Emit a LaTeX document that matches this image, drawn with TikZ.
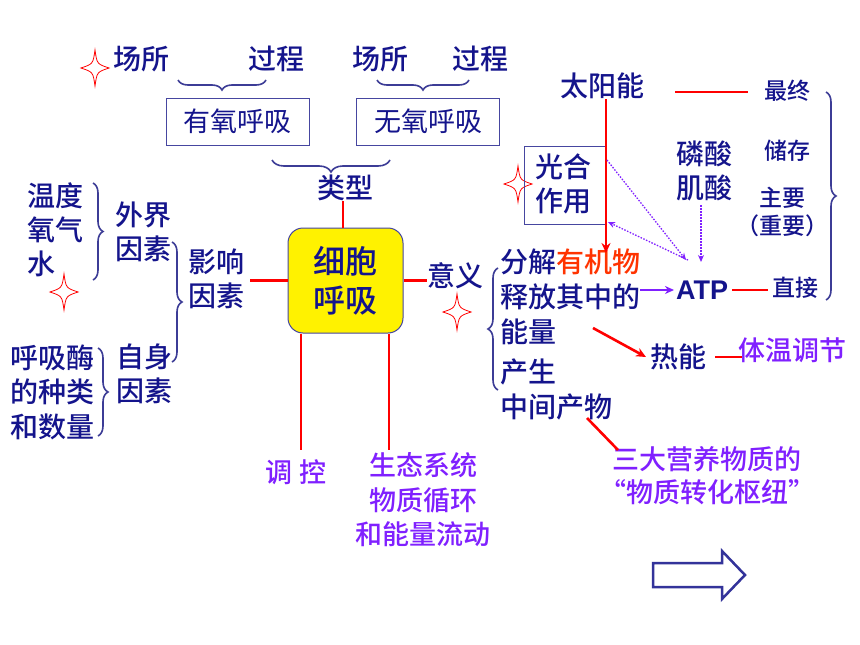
\documentclass[tikz,border=0pt]{standalone}
\usepackage{fontspec}
\setmainfont{Liberation Sans}
\newfontfamily\atpfont{Liberation Sans Bold}
\newfontfamily\cjk{Noto Sans CJK SC}[BoldFont={Noto Sans CJK SC Medium}]
\usetikzlibrary{decorations.pathreplacing,arrows.meta}
\definecolor{navy}{RGB}{20,20,140}
\definecolor{vio}{RGB}{128,32,255}
\definecolor{orred}{RGB}{255,51,0}
\definecolor{boxline}{RGB}{70,70,160}
\definecolor{bracec}{RGB}{60,60,150}
\begin{document}
\begin{tikzpicture}[x=1pt,y=-1pt,
  every node/.style={inner sep=0pt},
  lbl/.style={font=\cjk\bfseries\fontsize{28}{34}\selectfont, text=navy, anchor=west, align=left},
  lblc/.style={lbl, anchor=center, align=center},
  sml/.style={font=\cjk\bfseries\fontsize{23}{28}\selectfont, text=navy, anchor=west, align=left},
  pur/.style={font=\cjk\bfseries\fontsize{27}{34.5}\selectfont, text=vio, anchor=center, align=center},
  typebox/.style={draw=boxline, line width=1pt, minimum width=143pt, minimum height=47pt, font=\cjk\fontsize{27}{34}\selectfont, text=navy},
  redline/.style={draw=red, line width=2.6pt},
  redarrow/.style={redline, -{Stealth[length=10pt,width=9pt]}},
  purarrow/.style={draw=vio, line width=2.4pt, -{Stealth[length=9pt,width=8pt]}},
  dotarrow/.style={draw=vio, line width=1.3pt, dash pattern=on 1.5pt off 1.5pt, -{Stealth[length=7pt,width=6pt]}},
  bracel/.style={draw=bracec, line width=1.6pt, decorate, decoration={brace, amplitude=#1}},
  bracel/.default=10,
  fourstar/.pic={\draw[red, line width=0.8pt] (0,-18) .. controls (2,-4) .. (14,0) .. controls (2,4) .. (0,18) .. controls (-2,4) .. (-14,0) .. controls (-2,-4) .. (0,-18) -- cycle;}
]
\fill[white] (0,0) rectangle (860,645);
\useasboundingbox (0,0) rectangle (860,645);

% stars
\pic at (95,68) {fourstar};
\pic at (518,184) {fourstar};
\pic at (64,292) {fourstar};
\pic at (457,312) {fourstar};

% top labels
\node[lbl] (s1) at (113,59) {场所};
\node[lbl] (g1) at (248,59) {过程};
\node[lbl] (s2) at (352,59) {场所};
\node[lbl] (g2) at (452,59) {过程};
\draw[bracel, decoration={mirror}] (178,80) -- (266,80);
\draw[bracel, decoration={mirror}] (377,80) -- (469,80);

\node[typebox] (aer) at (237.5,121.5) {有氧呼吸};
\node[typebox] (anaer) at (428,121.5) {无氧呼吸};
\draw[bracel=12, decoration={mirror}] (272,160) -- (390,160);
\node[lblc] (leixing) at (345,188) {类型};

% central box
\node[draw=boxline, line width=1pt, fill=yellow, rounded corners=15pt, minimum width=115pt, minimum height=105pt,
  font=\cjk\bfseries\fontsize{32}{39}\selectfont, text=navy, align=center] (cell) at (345.5,280.5) {细胞\\呼吸};

% left side
\node[lbl] (yingxiang) at (188,279) {影响\\因素};
\node[lbl] (waijie) at (115,232) {外界\\因素};
\node[lbl] (wendu) at (27,230) {温度\\氧气\\水};
\node[lbl, font=\cjk\bfseries\fontsize{28}{34.5}\selectfont] (huxi) at (10,392) {呼吸酶\\的种类\\和数量};
\node[lbl, font=\cjk\bfseries\fontsize{28}{34.5}\selectfont] (zishen) at (116,374) {自身\\因素};
\draw[bracel] (93,183) -- (93,280);
\draw[bracel] (172,242) -- (172,362);
\draw[bracel] (98,348) -- (98,436);

% bottom
\node[pur] (tiaokong) at (296,472) {调 控};
\node[pur] (eco) at (423,500) {生态系统\\物质循环\\和能量流动};
\coordinate (t1) at (301,450);
\coordinate (t2) at (389,450);

% right side
\node[lbl] (yiyi) at (427,276) {意义};
\draw[bracel, decoration={mirror}] (498,268) -- (498,390);
\node[lbl, font=\cjk\bfseries\fontsize{28}{35}\selectfont] (m1) at (500,297) {分解{\color{orred}有机物}\\释放其中的\\能量};
\node[lbl, font=\cjk\bfseries\fontsize{28}{35}\selectfont] (m2) at (500,389.5) {产生\\中间产物};

\node[lbl] (taiyang) at (560,86) {太阳能};
\node[draw=boxline, line width=1pt, minimum width=82pt, minimum height=78pt] (gh) at (565,185) {};
\node[lbl] (ghtext) at (535,184) {光合\\作用};
\node[lbl] (linsuan) at (676,171) {磷酸\\肌酸};
\node[sml] (zuizhong) at (764,91) {最终};
\node[sml] (chucun) at (764,151) {储存};
\node[sml, anchor=center, align=center] (zhuyao) at (782,212) {主要\\（重要）};
\node[sml] (zhijie) at (772,288) {直接};
\node[anchor=west, font=\atpfont\fontsize{27}{30}\selectfont, text=navy] (atp) at (676,290) {ATP};
\draw[bracel=10] (826,92) -- (826,300);

\node[lbl] (reneng) at (650,357) {热能};
\node[lbl, font=\cjk\bfseries\fontsize{27}{34}\selectfont, text=vio] (tiwen) at (738,350) {体温调节};
\node[pur, font=\cjk\bfseries\fontsize{27}{33}\selectfont] (sanda) at (707,476) {三大营养物质的\\“物质转化枢纽”};

% connectors
\draw[redline] (leixing.south -| 343,0) -- (cell.north -| 343,0);
\draw[redline] ([xshift=6pt]yingxiang.east |- cell.west) -- (cell.west);
\draw[redline] (cell.east) -- (yiyi.west |- cell.east);
\draw[redline] (cell.south -| t1) -- (t1);
\draw[redline] (cell.south -| t2) -- (t2);

\coordinate (sunend) at (606,253);
\draw[redarrow] (taiyang.south -| sunend) -- (sunend);
\coordinate (sunr) at (675,92);
\draw[redline] (sunr) -- ([xshift=-16pt]zuizhong.west |- sunr);
\coordinate (m1out) at (640,290);
\draw[purarrow] (m1out) -- ([xshift=-2pt]atp.west);
\draw[redline] ([xshift=4pt]atp.east) -- ([xshift=-4pt]zhijie.west |- atp.east);
\coordinate (atpin) at (686,260);
\coordinate (ghtr) at (607,160);
\coordinate (ghbr) at (608,222);
\draw[dotarrow] (ghtr) -- (atpin);
\draw[dotarrow] ([xshift=2pt]atpin) -- (ghbr);
\draw[dotarrow] (701,205) -- (701,262);
\coordinate (m1e) at (593,328);
\draw[redarrow] (m1e) -- ([xshift=-4pt]reneng.west);
\draw[redline] ([xshift=9pt]reneng.east) -- ([xshift=4pt]tiwen.west |- reneng.east);
\coordinate (m2e) at (587,418);
\draw[redline] (m2e) -- (618,450);

% hollow arrow
\draw[draw={rgb,255:red,51;green,51;blue,154}, line width=2.5pt, fill=white]
  (653,563) -- (722,563) -- (722,551) -- (745,575) -- (722,599) -- (722,587) -- (653,587) -- cycle;
\end{tikzpicture}
\end{document}
